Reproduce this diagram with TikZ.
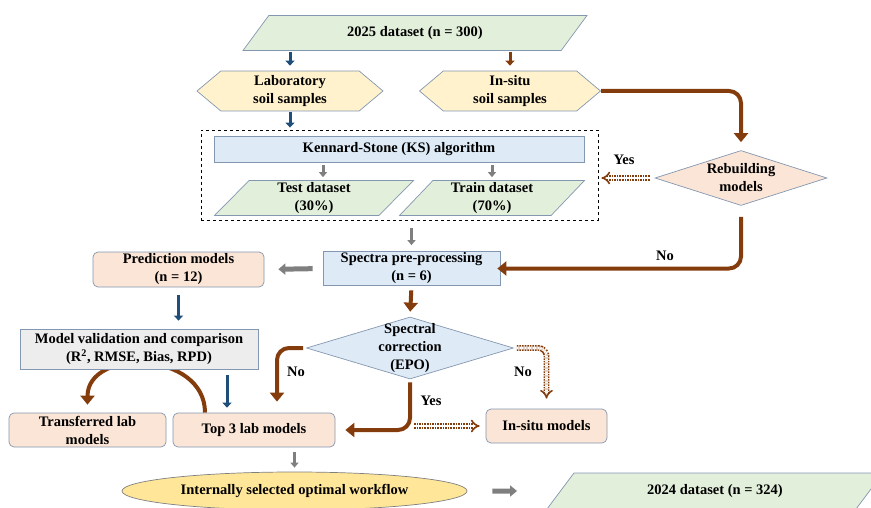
\documentclass[tikz,border=0pt]{standalone}
\usepackage{fontspec}
\setmainfont{Liberation Serif}
\usetikzlibrary{shapes.geometric,shapes.symbols,arrows.meta,calc,backgrounds}
\definecolor{edgegray}{HTML}{8497B0}
\definecolor{datagreen}{HTML}{E2EFDA}
\definecolor{samplecream}{HTML}{FFF2CC}
\definecolor{stepblue}{HTML}{DEEBF7}
\definecolor{modelpeach}{HTML}{FBE5D6}
\definecolor{checkgray}{HTML}{EDEDED}
\definecolor{goalyellow}{HTML}{FFE699}
\definecolor{rust}{HTML}{843C0C}
\definecolor{navy}{HTML}{1F4E79}
\definecolor{midgray}{HTML}{7F7F7F}
\tikzset{
% boxes of the workflow chart
base box/.style={draw=edgegray,line width=0.7pt,align=center,inner sep=0pt,
  font=\bfseries\fontsize{14.5}{18}\selectfont},
data box/.style={base box,trapezium,fill=datagreen,trapezium stretches body},
sample box/.style={base box,signal,signal to=west and east,signal pointer angle=80,fill=samplecream},
step box/.style={base box,rectangle,fill=stepblue},
model box/.style={base box,rectangle,rounded corners=5pt,fill=modelpeach},
choice box/.style={base box,diamond,aspect=3.3},
% connectors
blue arrow/.style={navy,line width=3pt,-{Triangle[length=5pt,width=9pt]}},
gray arrow/.style={midgray,line width=3pt,-{Triangle[length=5pt,width=8pt]}},
wide gray/.style={midgray,line width=5pt,-{Triangle[length=7pt,width=11pt]}},
rust arrow/.style={rust,line width=4pt,rounded corners=12pt,-{Triangle[length=9pt,width=14pt]}},
dotted arrow/.style={rust,densely dotted,line width=1.6pt,double=white,double distance=2.6pt,
  rounded corners=8pt,-{Implies}},
answer/.style={font=\bfseries\fontsize{14.5}{15}\selectfont}
}
\begin{document}
\begin{tikzpicture}[x=1pt,y=-1pt]
\useasboundingbox (0,0) rectangle (871,508);

\node[data box,trapezium left angle=27,trapezium right angle=153,minimum width=344pt,minimum height=35pt] (ds25) at (415,33) {2025 dataset (n = 300)};
\node[sample box,minimum width=186pt,minimum height=40pt] (lab) at (290,91) {Laboratory\\soil samples};
\node[sample box,minimum width=181pt,minimum height=40pt] (insitu) at (510,91) {In-situ\\soil samples};

\node[draw,dashed,line width=0.9pt,minimum width=397pt,minimum height=90pt,inner sep=0pt] (frame) at (399.5,175) {};
\node[step box,minimum width=370pt,minimum height=26pt] (ks) at (399,149) {Kennard-Stone (KS) algorithm};
\node[data box,trapezium left angle=42,trapezium right angle=138,minimum width=199pt,minimum height=35pt] (test) at (314,198) {Test dataset\\(30\%)};
\node[data box,trapezium left angle=43,trapezium right angle=137,minimum width=185pt,minimum height=35pt] (train) at (492,198) {Train dataset\\(70\%)};

\node[choice box,fill=modelpeach,minimum width=172pt,minimum height=55pt] (rebuild) at (741,178) {Rebuilding\\models};
\node[step box,minimum width=177pt,minimum height=34pt] (spectra) at (411.5,268.5) {Spectra pre-processing\\(n = 6)};
\node[model box,minimum width=171pt,minimum height=35pt] (pred) at (178.5,269.5) {Prediction models\\(n = 12)};
\node[base box,fill=checkgray,minimum width=238pt,minimum height=40pt] (valid) at (139,349) {Model validation and comparison\\(R\textsuperscript{2}, RMSE, Bias, RPD)};
\node[choice box,fill=stepblue,inner xsep=-4pt,inner ysep=-9pt,minimum width=207pt,minimum height=62pt] (epo) at (410,348) {Spectral\\correction\\(EPO)};

\node[model box,minimum width=157pt,minimum height=34pt] (transf) at (87.5,430) {Transferred lab\\models};
\node[model box,minimum width=162pt,minimum height=34pt] (top3) at (254,430) {Top 3 lab models};
\node[model box,minimum width=121pt,minimum height=34pt] (insitumod) at (546.5,426) {In-situ models};

\node[base box,ellipse,draw=midgray,fill=goalyellow,minimum width=345pt,minimum height=38pt] (workflow) at (294.5,491) {Internally selected optimal workflow};
\node[data box,trapezium left angle=26,trapezium right angle=154,minimum width=336pt,minimum height=36pt] (ds24) at (715,491) {2024 dataset (n = 324)};

% yes / no labels
\node[answer] (yesrb) at (624,160) {Yes};
\node[answer] (norb) at (665,256) {No};
\node[answer] (noleft) at (296,372) {No};
\node[answer] (yesepo) at (431,401) {Yes};
\node[answer] (noright) at (523,372) {No};

\coordinate (kt) at ($(test.center)+(9,0)$);
\coordinate (vt) at ($(top3.north)+(-27,0)$);
\coordinate (nt) at ($(top3.north)+(23,0)$);

\draw[blue arrow,shorten <=1.5pt,shorten >=5pt] (ds25.south -| lab.north) -- (lab.north);
\draw[rust arrow,line width=3pt,-{Triangle[length=5pt,width=9pt]},shorten <=1.5pt,shorten >=5pt] (ds25.south -| insitu.north) -- (insitu.north);
\draw[blue arrow,shorten <=1pt,shorten >=2pt] (lab.south) -- (lab.south |- frame.north);
\draw[gray arrow,shorten <=3pt,shorten >=3pt] (kt |- ks.south) -- (kt |- test.north);
\draw[gray arrow,shorten <=3pt,shorten >=3pt] (ks.south -| train.center) -- (train.center |- train.north);
\draw[gray arrow,shorten <=8pt,shorten >=6pt] (frame.south -| spectra.north) -- (spectra.north);

\draw[rust arrow,shorten >=8pt] (insitu.east) -| (rebuild.north);
\draw[rust arrow,shorten <=11pt,shorten >=-3pt] (rebuild.south) |- (spectra.east);
\draw[dotted arrow,shorten <=5pt,shorten >=3pt] (rebuild.west) -- (rebuild.west -| frame.east);

\draw[wide gray,shorten <=10pt,shorten >=14pt] (spectra.west) -- (pred.east);
\draw[blue arrow,shorten <=8pt,shorten >=8pt] (pred.south) -- (pred.south |- valid.north);
\draw[blue arrow,shorten <=6pt,shorten >=5pt] (vt |- valid.south) -- (vt);
\draw[rust arrow,shorten <=4.5pt,shorten >=5pt] (spectra.south) -- (epo.north);

\draw[rust arrow,shorten <=3pt,shorten >=11pt] (epo.west) -| (nt);
\draw[rust arrow,shorten <=3pt,shorten >=10pt] (epo.south) |- (top3.east);
\draw[dotted arrow,shorten <=4pt,shorten >=6pt] (epo.south |- insitumod.west) -- (insitumod.west);
\draw[dotted arrow,shorten <=3pt,shorten >=10pt] (epo.east) -| (insitumod.north);

\begin{scope}[on background layer]
\draw[rust,line width=4pt,-{Triangle[length=9pt,width=14pt]}] ($(top3.north)+(-49,0)$) .. controls +(0,-62) and +(0,-57) .. ($(transf.north)+(0,-8)$);
\end{scope}

\draw[gray arrow,shorten <=5pt,shorten >=4pt] (top3.south -| workflow.north) -- (workflow.north);
\draw[wide gray,shorten <=25pt,shorten >=43pt] (workflow.east) -- (ds24.west);
\end{tikzpicture}
\end{document}
